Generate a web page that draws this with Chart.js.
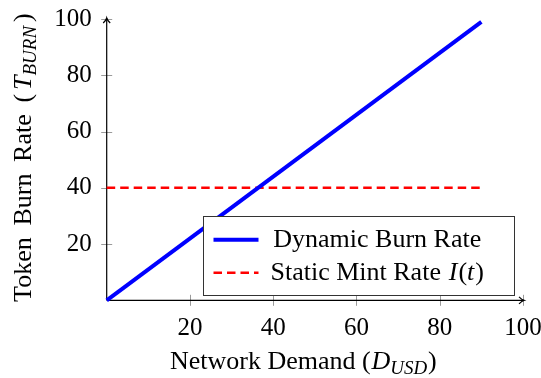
<!DOCTYPE html>
<html><head><meta charset="utf-8">
<script src="https://cdn.jsdelivr.net/npm/chart.js@4.4.0/dist/chart.umd.min.js"></script>
<style>html,body{margin:0;padding:0;background:#fff;}#wrap{width:541px;height:378px;}</style>
</head><body><div id="wrap"><canvas id="c" width="541" height="378"></canvas></div>
<script>
// ---- data ----
const demand = [0, 90];
const burnRate = [0, 99];
const mintRate = [40, 40];
const seriesLabels = ['Dynamic Burn Rate', 'Static Mint Rate I(t)'];
const xTicks = [20, 40, 60, 80, 100];
const yTicks = [20, 40, 60, 80, 100];

const SERIF = '"Liberation Serif"';
const FS = 25;   // tick labels
const TS = 26;   // axis titles / legend

// rich-text segments (g = extra gap before segment, in em)
const xTitleSegs = [{t:'Network Demand ('},{t:'D',it:1,g:0.03},{t:'USD',it:1,sub:1},{t:')',g:0.03}];
const yTitleSegs = [{t:'Token'},{t:'Burn',g:0.45},{t:'Rate',g:0.45},{t:'(',g:0.45},{t:'T',it:1,g:0.15},{t:'BURN',it:1,sub:1},{t:')',g:0.15}];
const legendSegs = [
  [{t:'Dynamic Burn Rate'}],
  [{t:'Static Mint Rate'},{t:'I',it:1,g:0.3},{t:'(',g:0.04},{t:'t',it:1},{t:')',g:0.04}]
];

function segFont(s, size){ return (s.it?'italic ':'') + (s.sub?Math.round(size*0.72):size) + 'px ' + SERIF; }
function richWidth(ctx, segs, size){
  let w=0; for(const s of segs){ ctx.font=segFont(s,size); w+=(s.g||0)*size + ctx.measureText(s.t).width; } return w;
}
function drawRich(ctx, segs, x, y, size, align){
  const w = richWidth(ctx, segs, size);
  let cx = align==='center' ? x - w/2 : x;
  ctx.textBaseline='alphabetic'; ctx.textAlign='left';
  for(const s of segs){
    ctx.font=segFont(s,size);
    cx += (s.g||0)*size;
    ctx.fillText(s.t, cx, y + (s.sub? size*0.2 : 0));
    cx += ctx.measureText(s.t).width;
  }
}

const decor = {
  id:'decor',
  beforeDatasetsDraw(chart){
    const {ctx, chartArea:a, scales:{x,y}} = chart;
    ctx.save();
    // tick marks crossing the axes
    ctx.strokeStyle='#9a9a9a'; ctx.lineWidth=1;
    for(const v of xTicks){ const px=Math.round(x.getPixelForValue(v))+0.5; ctx.beginPath(); ctx.moveTo(px,a.bottom-5.5); ctx.lineTo(px,a.bottom+5.5); ctx.stroke(); }
    for(const v of yTicks){ const py=Math.round(y.getPixelForValue(v))+0.5; ctx.beginPath(); ctx.moveTo(a.left-5.5,py); ctx.lineTo(a.left+5.5,py); ctx.stroke(); }
    // axis lines with arrows
    ctx.strokeStyle='#000'; ctx.lineWidth=1.2;
    const x0=x.getPixelForValue(0), y0=y.getPixelForValue(0);
    const xe=x.getPixelForValue(100)+1, ye=y.getPixelForValue(100)-1;
    ctx.beginPath(); ctx.moveTo(x0,y0); ctx.lineTo(xe,y0); ctx.stroke();
    ctx.beginPath(); ctx.moveTo(x0,y0); ctx.lineTo(x0,ye); ctx.stroke();
    ctx.beginPath(); ctx.moveTo(xe-5,y0-3.5); ctx.quadraticCurveTo(xe-2,y0-0.5,xe,y0); ctx.quadraticCurveTo(xe-2,y0+0.5,xe-5,y0+3.5); ctx.stroke();
    ctx.beginPath(); ctx.moveTo(x0-3.5,ye+5); ctx.quadraticCurveTo(x0-0.5,ye+2,x0,ye); ctx.quadraticCurveTo(x0+0.5,ye+2,x0+3.5,ye+5); ctx.stroke();
    // axis titles
    ctx.fillStyle='#000';
    drawRich(ctx, xTitleSegs, (a.left+a.right)/2 - 11.5, chart.height-9, TS, 'center');
    ctx.save();
    ctx.translate(31, (a.top+a.bottom)/2 - 2);
    ctx.rotate(-Math.PI/2);
    drawRich(ctx, yTitleSegs, 0, 0, TS, 'center');
    ctx.restore();
    ctx.restore();
  },
  afterDatasetsDraw(chart){
    const {ctx, chartArea:a} = chart;
    ctx.save();
    const size=TS, rowH=33, sample=45, padL=10, gap=8, padR=26;
    const tw = Math.max(...legendSegs.map(s=>richWidth(ctx,s,size)));
    const colW = tw + 8;
    const w = padL+sample+gap+colW+padR, h = 79;
    const right = a.right-9, bottom = a.bottom-5;
    const left = right-w, top = bottom-h;
    ctx.fillStyle='#fff'; ctx.fillRect(left,top,w,h);
    ctx.strokeStyle='#333'; ctx.lineWidth=1; ctx.strokeRect(Math.round(left)+0.5,Math.round(top)+0.5,Math.round(w),Math.round(h));
    chart.data.datasets.forEach((ds,i)=>{
      const cy = top + 23.5 + i*rowH;
      ctx.strokeStyle=ds.borderColor; ctx.lineWidth=ds.borderWidth;
      ctx.setLineDash(ds.borderDash||[]);
      ctx.beginPath(); ctx.moveTo(left+padL,cy); ctx.lineTo(left+padL+sample,cy); ctx.stroke();
      ctx.setLineDash([]);
      ctx.fillStyle='#000';
      drawRich(ctx, legendSegs[i], left+padL+sample+gap+colW/2, cy+7.5, size, 'center');
    });
    ctx.restore();
  }
};

function noPad(s){ s.paddingTop=0; s.paddingBottom=0; s.paddingLeft=0; s.paddingRight=0; }

new Chart(document.getElementById('c'), {
  type:'line',
  data:{ datasets:[
    { label:seriesLabels[0], data:demand.map((d,i)=>({x:d,y:burnRate[i]})), borderColor:'#0000ff', borderWidth:4, pointRadius:0, fill:false, tension:0, clip:false },
    { label:seriesLabels[1], data:demand.map((d,i)=>({x:d,y:mintRate[i]})), borderColor:'#ff0000', borderWidth:2.5, borderDash:[8.5,5], pointRadius:0, fill:false, tension:0, clip:false }
  ]},
  options:{
    responsive:false, animation:false, devicePixelRatio:1,
    layout:{padding:{top:19,right:18,left:0,bottom:0}},
    plugins:{legend:{display:false}, tooltip:{enabled:false}},
    scales:{
      x:{ type:'linear', min:0, max:100,
        afterBuildTicks:s=>{ s.ticks = xTicks.map(v=>({value:v})); },
        afterFit:s=>{ s.height = 77.7; noPad(s); },
        grid:{display:false, drawTicks:false}, border:{display:false},
        ticks:{ color:'#000', padding:13, maxRotation:0, font:{family:SERIF,size:FS} } },
      y:{ type:'linear', min:0, max:100,
        afterBuildTicks:s=>{ s.ticks = yTicks.map(v=>({value:v})); },
        afterFit:s=>{ s.width = 106.7; noPad(s); },
        grid:{display:false, drawTicks:false}, border:{display:false},
        ticks:{ color:'#000', padding:15, font:{family:SERIF,size:FS} } }
    }
  },
  plugins:[decor]
});
</script></body></html>
